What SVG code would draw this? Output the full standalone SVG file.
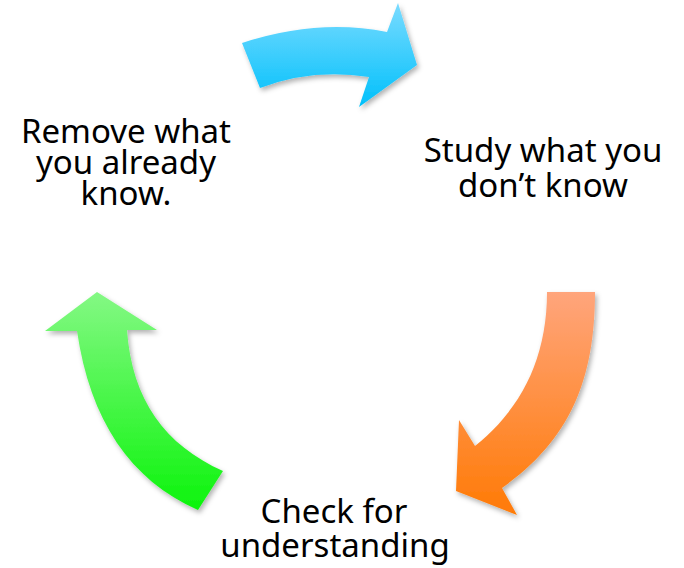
<svg xmlns="http://www.w3.org/2000/svg" width="684" height="568" viewBox="0 0 684 568">
  <style>
    .lbl { font-family: "Noto Sans", "Open Sans", sans-serif; font-size: 33px; fill: #000; text-anchor: middle; }
  </style>
  <defs>
    <linearGradient id="gBlue" x1="0" y1="0" x2="0" y2="1">
      <stop offset="0" stop-color="#7adbff"/>
      <stop offset="1" stop-color="#00c0fb"/>
    </linearGradient>
    <linearGradient id="gOrange" x1="0" y1="0" x2="0" y2="1">
      <stop offset="0" stop-color="#ffa57c"/>
      <stop offset="1" stop-color="#ff7a05"/>
    </linearGradient>
    <linearGradient id="gGreen" x1="0" y1="0" x2="0" y2="1">
      <stop offset="0" stop-color="#84f884"/>
      <stop offset="1" stop-color="#0cf40c"/>
    </linearGradient>
    <filter id="shadow" x="-20%" y="-20%" width="140%" height="140%">
      <feDropShadow dx="2" dy="3" stdDeviation="2.5" flood-color="#000" flood-opacity="0.3"/>
    </filter>
  </defs>
  <rect width="684" height="568" fill="#fff"/>
  <g id="connectors">
    <path id="arrow-blue" filter="url(#shadow)" fill="url(#gBlue)" d="M242,43 Q318,18 387,32 L398,3 L417,65 L359,107 L369,77 Q312,68 260,88 Z"/>
    <path id="arrow-orange" filter="url(#shadow)" fill="url(#gOrange)" d="M547,292 L595,292 C595,380 570,440 502,488 L517,515 L456,491 L459,420 L475,446 C520,410 547,360 547,292 Z"/>
    <path id="arrow-green" filter="url(#shadow)" fill="url(#gGreen)" d="M97,292 L157,330 L127,330 C132,400 165,445 223,471 L198,510 C130,480 90,420 77,331 L45,331 Z"/>
  </g>
  <g id="node-remove">
    <text class="lbl" x="126" y="143">Remove what</text>
    <text class="lbl" x="126" y="174">you already</text>
    <text class="lbl" x="126" y="205">know.</text>
  </g>
  <g id="node-study">
    <text class="lbl" x="543" y="162">Study what you</text>
    <text class="lbl" x="543" y="197">don’t know</text>
  </g>
  <g id="node-check">
    <text class="lbl" x="334" y="523">Check for</text>
    <text class="lbl" x="335" y="557">understanding</text>
  </g>
</svg>
